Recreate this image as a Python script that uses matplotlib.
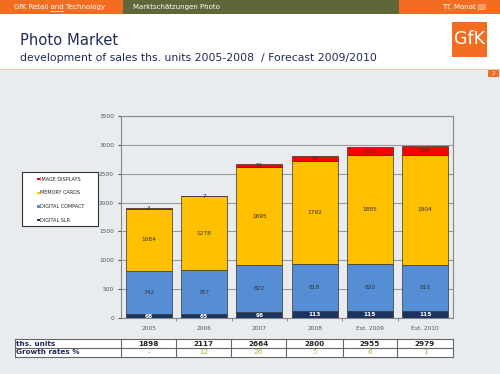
import numpy as np
import matplotlib
matplotlib.use("Agg")
from matplotlib import pyplot as plt
from matplotlib.patches import Rectangle

years = ["2005", "2006", "2007", "2008", "Est. 2009", "Est. 2010"]
digital_slr = [68, 65, 96, 113, 115, 115]
digital_compact = [742, 767, 822, 818, 820, 810]
memory_cards = [1084, 1278, 1695, 1792, 1885, 1904]
image_displays = [4, 7, 51, 78, 135, 150]
ths_units = [1898, 2117, 2664, 2800, 2955, 2979]
growth = ["-", "12", "26", "5", "6", "1"]

W, H = 500, 374
fig = plt.figure(figsize=(5, 3.74), dpi=100)
fig.patch.set_facecolor("#e9ecee")

def fx(x):
    return x / W

def fy(y):
    return 1 - y / H

def rect(x0, y0, x1, y1, color, **kw):
    r = Rectangle((fx(x0), fy(y1)), fx(x1 - x0), (y1 - y0) / H,
                  transform=fig.transFigure, facecolor=color, **kw)
    fig.patches.append(r)
    return r

# header
rect(0, 0, 500, 69, "white", edgecolor="none")
rect(0, 0, 123, 14, "#f26c21", edgecolor="none")
rect(123, 0, 399, 14, "#5f6638", edgecolor="none")
rect(399, 0, 500, 14, "#f26c21", edgecolor="none")
rect(0, 68.5, 500, 69.5, "#f4c3a6", edgecolor="none")
rect(452, 22, 487, 57, "#f26c21", edgecolor="none")
rect(488, 70, 499, 77, "#f26c21", edgecolor="none")
fig.text(fx(14), fy(7.5), "GfK Retail and Technology", color="white", fontsize=5.0, va="center")
# underline under "and"
fig.lines.append(plt.Line2D([fx(50), fx(63)], [fy(11), fy(11)], transform=fig.transFigure,
                            color="white", linewidth=0.5))
fig.text(fx(133), fy(7.5), "Marktschätzungen Photo", color="white", fontsize=5.0, va="center")
fig.text(fx(486), fy(7.5), "TT. Monat JJJJ", color="white", fontsize=5.0, va="center", ha="right")
fig.text(fx(469.5), fy(39.5), "GfK", color="white", fontsize=12.5, va="center", ha="center")
fig.text(fx(493.5), fy(73.5), "2", color="white", fontsize=4, va="center", ha="center")
fig.text(fx(20), fy(45), "Photo Market", color="#1f2a5c", fontsize=10.6, va="baseline")
fig.text(fx(20), fy(61), "development of sales ths. units 2005-2008  / Forecast 2009/2010",
         color="#1f2a5c", fontsize=7.8, va="baseline")

# chart
ax = fig.add_axes([fx(121), fy(318), fx(453 - 121), (318 - 116) / H])
ax.set_facecolor("#e9ecee")
x = np.arange(len(years))
wd = 0.83
series = [
    (digital_slr, "#1b3560", "DIGITAL SLR"),
    (digital_compact, "#558ed5", "DIGITAL COMPACT"),
    (memory_cards, "#ffc000", "MEMORY CARDS"),
    (image_displays, "#ff0000", "IMAGE DISPLAYS"),
]
bottom = np.zeros(len(years))
for k, (vals, col, name) in enumerate(series):
    vals = np.array(vals)
    ax.bar(x, vals, wd, bottom=bottom, color=col, edgecolor="#333333", linewidth=0.5,
           label=name, zorder=3)
    for i, v in enumerate(vals):
        tc = "white" if k == 0 else "#333333"
        fw = "bold" if k == 0 else "normal"
        ax.text(x[i], bottom[i] + v / 2, str(v), ha="center", va="center",
                fontsize=4.2, color=tc, fontweight=fw, zorder=4)
    bottom += vals

ax.set_xlim(-0.5, 5.5)
ax.set_ylim(0, 3500)
ax.set_yticks(np.arange(0, 3501, 500))
ax.yaxis.grid(True, color="#999999", linewidth=0.8, zorder=0)
ax.set_xticks(x)
ax.set_xticklabels(years)
ax.set_xticks(np.arange(0.5, 5.5, 1), minor=True)
ax.tick_params(axis="x", which="major", length=0, labelsize=4.2, colors="#555555", pad=6)
ax.tick_params(axis="x", which="minor", length=2, color="#777777")
ax.tick_params(axis="y", length=2, labelsize=4.2, colors="#555555", pad=3)
for s in ax.spines.values():
    s.set_color("#888888")
    s.set_linewidth(0.8)

# legend box drawn by hand
rect(22, 172, 98, 226, "white", edgecolor="#333333", linewidth=0.8)
for j, (vals, col, name) in enumerate(series[::-1]):
    yy = 179.3 + j * 13.6
    rect(37.3, yy - 1.1, 39.5, yy + 1.1, col, edgecolor="none")
    fig.text(fx(40), fy(yy), name, fontsize=3.5, color="#222222", va="center")

# table
cols = [15, 121, 176, 231, 286, 343, 397, 453]
rows = [339, 348, 357]
rect(15, 339, 453, 357, "white", edgecolor="none")
for yy in rows:
    fig.lines.append(plt.Line2D([fx(15), fx(453)], [fy(yy), fy(yy)], transform=fig.transFigure,
                                color="#666666", linewidth=0.8))
for xx in cols:
    fig.lines.append(plt.Line2D([fx(xx), fx(xx)], [fy(339), fy(357)], transform=fig.transFigure,
                                color="#666666", linewidth=0.8))
fig.text(fx(16), fy(343.5), "ths. units", fontsize=5.2, fontweight="bold", color="#1f2a5c", va="center")
fig.text(fx(16), fy(352.5), "Growth rates %", fontsize=5.2, fontweight="bold", color="#1f2a5c", va="center")
for i in range(len(years)):
    cx = (cols[i + 1] + cols[i + 2]) / 2
    fig.text(fx(cx), fy(343.5), str(ths_units[i]), fontsize=5.2, fontweight="bold",
             color="#222222", ha="center", va="center")
    gc = "#888888" if growth[i] == "-" else "#8dc63f"
    fig.text(fx(cx), fy(352.5), growth[i], fontsize=5.2, color=gc, ha="center", va="center")

fig.savefig("out.png", dpi=100, facecolor=fig.get_facecolor())
